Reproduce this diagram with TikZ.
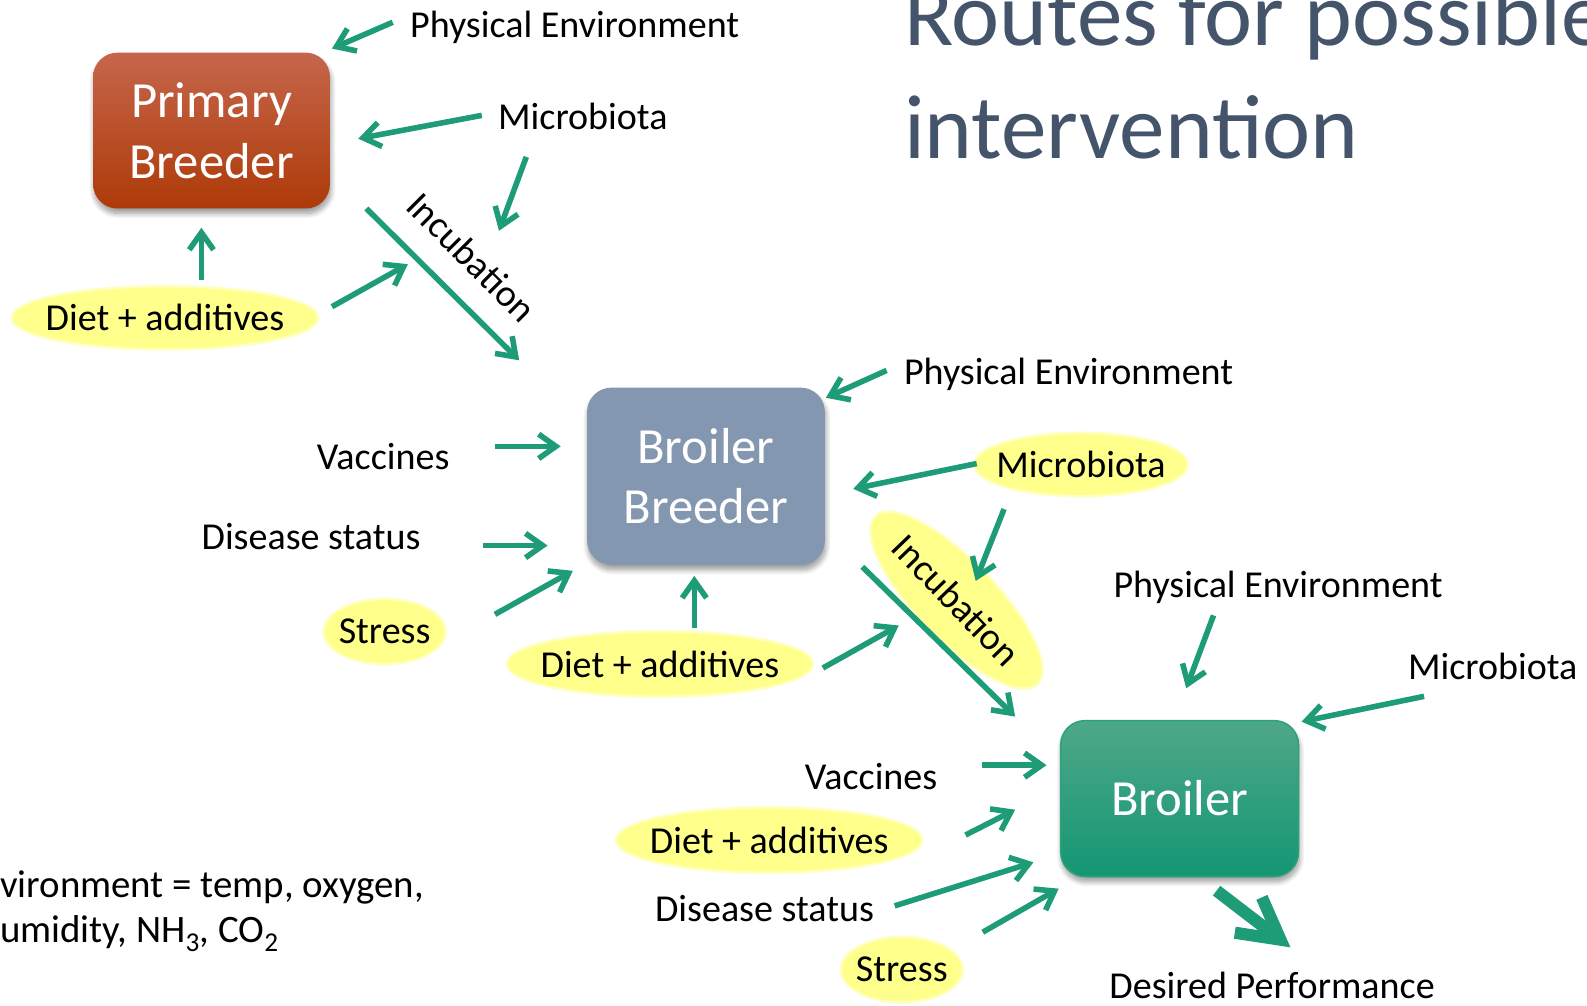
\documentclass[tikz,border=0pt]{standalone}
\usepackage{fontspec}
\setmainfont{Carlito}
\usetikzlibrary{arrows.meta,shapes.geometric,shadows.blur}

\definecolor{arrowgreen}{RGB}{30,155,119}
\definecolor{hlyellow}{RGB}{255,255,140}
\definecolor{titleslate}{RGB}{68,84,106}
\definecolor{primtop}{RGB}{197,102,76}
\definecolor{primbot}{RGB}{174,58,8}
\definecolor{bbfill}{RGB}{132,151,176}
\definecolor{brtop}{RGB}{78,168,136}
\definecolor{brbot}{RGB}{20,150,115}
\definecolor{brline}{RGB}{45,160,125}

\begin{document}
\begin{tikzpicture}[x=1pt,y=1pt,
  lbl/.style={font=\fontsize{37.6}{44}\selectfont, inner sep=0pt, anchor=base west},
  hl/.style={ellipse, fill=hlyellow, inner ysep=0pt, font=\fontsize{37.6}{44}\selectfont,
    preaction={draw=hlyellow!55, line width=5pt}},
  boxtxt/.style={font=\fontsize{50}{60}\selectfont, text=white, align=center,
    rounded corners=24pt, inner sep=0pt,
    blur shadow={shadow xshift=1pt, shadow yshift=-5pt, shadow blur radius=5pt,
      shadow blur steps=10, shadow opacity=40}},
  arr/.style={draw=arrowgreen, line width=5.5pt, -{Straight Barb[length=17pt,width=24pt]}},
  bigarr/.style={draw=arrowgreen, line width=12pt, -{Straight Barb[length=40pt,width=44pt]}},
  ttl/.style={font=\fontsize{90}{112}\selectfont, text=titleslate, inner sep=0pt, anchor=base west}
]
\useasboundingbox (0,0) rectangle (1568,-993);

% title
\node[ttl] (title1) at (893,-45) {Routes for possible};
\node[ttl] (title2) at (893,-157) {intervention};

% the three stages
\node[boxtxt, top color=primtop, bottom color=primbot,
  minimum width=234pt, minimum height=154pt] (prim) at (209,-129)
  {Primary\\Breeder};
\node[boxtxt, fill=bbfill,
  minimum width=235pt, minimum height=175pt] (bb) at (697.5,-470.5)
  {Broiler\\Breeder};
\node[boxtxt, top color=brtop, bottom color=brbot, draw=brline, line width=1.5pt,
  minimum width=235pt, minimum height=154pt] (br) at (1165.5,-789)
  {Broiler};

% highlighted factors
\node[hl, inner xsep=-12pt, minimum width=300pt, minimum height=60pt] (diet1) at (163,-314) {Diet + additives};
\node[hl, inner xsep=-6pt, minimum width=118pt, minimum height=62pt] (stress2) at (380,-624) {Stress};
\node[hl, inner xsep=-12pt, minimum width=300pt, minimum height=62pt] (diet2) at (652,-656) {Diet + additives};
\node[hl, inner xsep=-10pt, minimum width=206pt, minimum height=60pt] (micro2) at (1068,-459) {Microbiota};
\node[hl, inner xsep=-2pt, minimum width=228pt, minimum height=76pt, rotate=-46] (incub2) at (945,-593) {Incubation};
\node[hl, inner xsep=-12pt, minimum width=300pt, minimum height=62pt] (diet3) at (760,-830) {Diet + additives};
\node[hl, inner xsep=-6pt, minimum width=118pt, minimum height=62pt] (stress3) at (891,-958) {Stress};

% plain factors
\node[lbl] (pe1) at (405,-37) {Physical Environment};
\node[lbl] (micro1) at (492,-128) {Microbiota};
\node[font=\fontsize{37.6}{44}\selectfont, inner sep=0pt, rotate=-45] (incub1) at (466,-254) {Incubation};
\node[lbl] (pe2) at (893,-380) {Physical Environment};
\node[lbl] (vac2) at (313,-464) {Vaccines};
\node[lbl] (dis2) at (199,-543) {Disease status};
\node[lbl] (pe3) at (1100,-590) {Physical Environment};
\node[lbl] (micro3) at (1391,-671) {Microbiota};
\node[lbl] (vac3) at (795,-780) {Vaccines};
\node[lbl] (dis3) at (647,-910) {Disease status};
\node[lbl] (desired) at (1096,-987) {Desired Performance};

% footnote
\node[lbl, font=\fontsize{38.4}{44}\selectfont] (env1) at (0,-887) {vironment = temp, oxygen,};
\node[lbl, font=\fontsize{38.4}{44}\selectfont] (env2) at (0,-931) {umidity, NH\textsubscript{3}, CO\textsubscript{2}};

% connectors
\foreach \n/\sx/\sy/\ex/\ey in {
  pe1a/388/-22/328/-48,
  mi1a/476/-114/354/-137,
  mi1b/520/-155/493/-228,
  inc1/362/-206/513/-356,
  di1a/199/-277/199/-225,
  di1b/328/-303/403/-261,
  pe2a/876/-366/816/-393,
  va2a/489/-441/554/-441,
  ds2a/477/-539/541/-539,
  st2a/489/-607/566/-564,
  di2a/686/-620/686/-569,
  di2b/813/-660/888/-618,
  mi2a/965/-458/843/-483,
  mi2b/992/-503/964/-574,
  inc2/852/-560/1003/-708,
  pe3a/1199/-608/1172/-680,
  mi3a/1407/-688/1286/-713,
  va3a/970/-756/1034/-756,
  di3a/954/-825/1003/-800,
  ds3a/884/-895/1021/-852,
  st3a/971/-921/1046/-878}
{
  \coordinate (\n-s) at (\sx,\sy);
  \coordinate (\n-e) at (\ex,\ey);
  \draw[arr] (\n-s) -- (\n-e);
}

\coordinate (out-s) at (1202,-880);
\coordinate (out-e) at (1275,-936);
\draw[bigarr] (out-s) -- (out-e);
\end{tikzpicture}
\end{document}
